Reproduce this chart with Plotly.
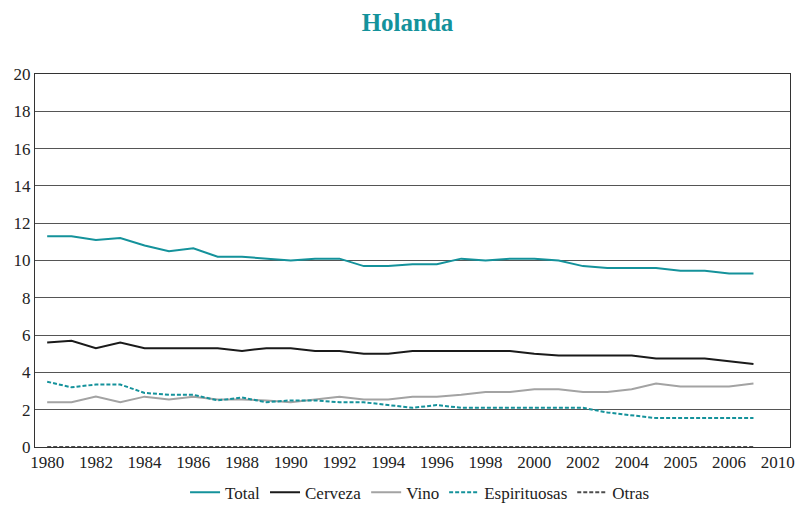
import plotly.graph_objects as go

tick_labels = ["1980", "1982", "1984", "1986", "1988", "1990", "1992", "1994",
               "1996", "1998", "2000", "2002", "2004", "2005", "2006", "2010"]
x_idx = list(range(30))

total = [11.3, 11.3, 11.1, 11.2, 10.8, 10.5, 10.65, 10.2, 10.2, 10.1, 10.0,
         10.1, 10.1, 9.7, 9.7, 9.8, 9.8, 10.1, 10.0, 10.1, 10.1, 10.0,
         9.7, 9.6, 9.6, 9.6, 9.45, 9.45, 9.3, 9.3]
cerveza = [5.6, 5.7, 5.3, 5.6, 5.3, 5.3, 5.3, 5.3, 5.15, 5.3, 5.3,
           5.15, 5.15, 5.0, 5.0, 5.15, 5.15, 5.15, 5.15, 5.15, 5.0, 4.9,
           4.9, 4.9, 4.9, 4.75, 4.75, 4.75, 4.6, 4.45]
vino = [2.4, 2.4, 2.7, 2.4, 2.7, 2.55, 2.7, 2.55, 2.55, 2.5, 2.4,
        2.55, 2.7, 2.55, 2.55, 2.7, 2.7, 2.8, 2.95, 2.95, 3.1, 3.1,
        2.95, 2.95, 3.1, 3.4, 3.25, 3.25, 3.25, 3.4]
espirituosas = [3.5, 3.2, 3.35, 3.35, 2.9, 2.8, 2.8, 2.5, 2.65, 2.4, 2.5,
                2.5, 2.4, 2.4, 2.25, 2.1, 2.25, 2.1, 2.1, 2.1, 2.1, 2.1,
                2.1, 1.85, 1.7, 1.55, 1.55, 1.55, 1.55, 1.55]
otras = [0.0] * 30

teal = "#14929b"
serif = "Liberation Serif, DejaVu Serif, serif"
fig = go.Figure()
series = [
    ("Total", total, teal, "solid"),
    ("Cerveza", cerveza, "#1a1a1a", "solid"),
    ("Vino", vino, "#a3a3a3", "solid"),
    ("Espirituosas", espirituosas, teal, "4px,2px"),
    ("Otras", otras, "#4d4d4d", "4px,2px"),
]
for name, vals, col, dash in series:
    fig.add_trace(go.Scatter(x=x_idx, y=vals, name=name, mode="lines",
                             line=dict(color=col, width=2, dash=dash)))

fig.update_layout(
    width=799, height=497,
    margin=dict(l=27, r=17, t=66, b=58, autoexpand=False),
    paper_bgcolor="white", plot_bgcolor="white",
    font=dict(family=serif, size=16, color="#222"),
    title=dict(text="<b>Holanda</b>", x=0.5, xanchor="center", y=0.972, yanchor="middle",
               font=dict(family=serif, size=25, color=teal)),
    showlegend=True,
    legend=dict(orientation="h", x=0.51, xanchor="center", y=-0.074, yanchor="top",
                font=dict(size=17, family=serif, color="#222"), tracegroupgap=0,
                itemwidth=30),
)
fig.update_xaxes(range=[-0.5, 30.5], tickmode="array",
                 tickvals=list(range(0, 31, 2)), ticktext=tick_labels,
                 showgrid=False, showline=True, linecolor="#333", linewidth=1,
                 mirror=True, zeroline=False, ticks="",
                 tickfont=dict(family=serif, size=17, color="#222"))
fig.update_yaxes(range=[0, 20], dtick=2, showgrid=True, gridcolor="#555",
                 gridwidth=1, showline=True, linecolor="#333", linewidth=1,
                 mirror=True, zeroline=False, ticks="",
                 tickfont=dict(family=serif, size=17, color="#222"))

fig.write_html("out.html")
